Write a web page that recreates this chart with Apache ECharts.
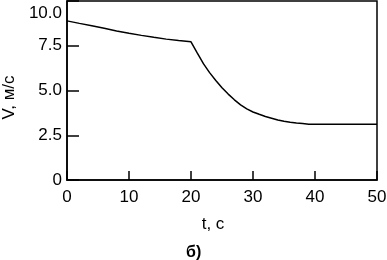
<!DOCTYPE html>
<html><head><meta charset="utf-8">
<script src="https://cdn.jsdelivr.net/npm/echarts@6/dist/echarts.min.js"></script>
<style>html,body{margin:0;padding:0;background:#fff}#c{width:387px;height:260px}</style>
</head><body><div id="c"></div>
<script>
const tValues = [0, 2, 4, 6, 8, 10, 12, 14, 16, 18, 20, 21, 22, 23, 24, 25, 26, 27, 28, 29, 30, 31, 32, 33, 34, 35, 36, 37, 38, 39, 50];
const vValues = [8.89, 8.75, 8.62, 8.48, 8.33, 8.2, 8.08, 7.97, 7.87, 7.79, 7.72, 7.1, 6.5, 6.0, 5.56, 5.15, 4.8, 4.48, 4.2, 3.97, 3.8, 3.67, 3.55, 3.45, 3.35, 3.28, 3.22, 3.18, 3.15, 3.12, 3.11];
const xTicks = [0, 10, 20, 30, 40, 50];
const yTickLabels = {0: '0', 2.5: '2.5', 5: '5.0', 7.5: '7.5', 10: '10.0'};
const xName = 't, c';
const yName = 'V, м/с';
const caption = 'б)';

const font = 'Liberation Sans, Arial, sans-serif';
const chart = echarts.init(document.getElementById('c'), null, {renderer: 'canvas'});
chart.setOption({
  animation: false,
  backgroundColor: '#fff',
  grid: {left: 67, right: 10, top: 1, bottom: 80, show: true, borderColor: '#000', borderWidth: 1.5, backgroundColor: 'transparent', containLabel: false, outerBoundsMode: 'none'},
  xAxis: {
    type: 'value', min: xTicks[0], max: xTicks[xTicks.length - 1], interval: 10,
    axisLine: {show: true, lineStyle: {color: '#000', width: 1.5}},
    axisTick: {show: true, inside: true, length: 9, lineStyle: {color: '#000', width: 1.5}},
    splitLine: {show: false},
    axisLabel: {color: '#000', fontSize: 17, fontFamily: font, margin: 9},
    name: xName, nameLocation: 'middle', nameGap: 36,
    nameTextStyle: {color: '#000', fontSize: 17, fontFamily: font, padding: [0, 18, 0, 0]}
  },
  yAxis: {
    type: 'value', min: 0, max: 10, interval: 2.5,
    axisLine: {show: true, lineStyle: {color: '#000', width: 1.5}},
    axisTick: {show: true, inside: true, length: 12, lineStyle: {color: '#000', width: 1.5}},
    splitLine: {show: false},
    axisLabel: {
      color: '#000', fontSize: 17, fontFamily: font, margin: 5,
      formatter: v => v === 10 ? '{top|' + yTickLabels[v] + '}' : yTickLabels[v],
      rich: {top: {fontSize: 17, fontFamily: font, color: '#000', padding: [25, 0, 0, 0]}}
    },
    name: yName, nameLocation: 'middle', nameGap: 46,
    nameTextStyle: {color: '#000', fontSize: 17, fontFamily: font, padding: [0, 14, 0, 0]}
  },
  graphic: [{
    type: 'text', left: 186, top: 245,
    style: {text: caption, fill: '#000', font: 'bold 16px ' + font}
  }],
  series: [{
    type: 'line', showSymbol: false,
    data: tValues.map((t, i) => [t, vValues[i]]),
    lineStyle: {color: '#000', width: 1.5}
  }]
});
</script></body></html>
